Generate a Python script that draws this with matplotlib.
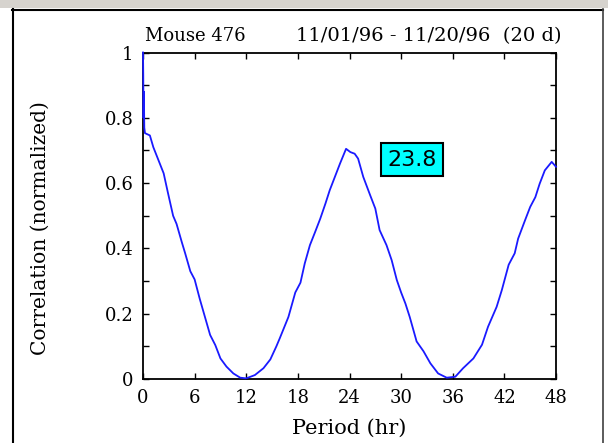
import matplotlib
matplotlib.use("Agg")
import matplotlib.pyplot as plt
from matplotlib.lines import Line2D
from matplotlib.patches import Rectangle

# autocorrelation
period = [0, 0.03, 0.06, 0.10, 0.15, 0.23, 0.8, 1.2, 1.8, 2.4, 2.9, 3.5, 3.9, 4.5, 4.9,
          5.5, 6.0, 6.6, 7.2, 7.8, 8.4, 9.0, 9.7, 10.5, 11.3, 12.0, 13.0, 14.0, 14.8,
          15.5, 15.9, 16.9, 17.7, 18.3, 18.8, 19.4, 20.0, 20.6, 21.2, 21.7, 22.3, 22.9,
          23.6, 24.1, 24.6, 25.0, 25.6, 26.4, 27.0, 27.5, 28.3, 28.9, 29.5, 30.0, 30.5,
          31.0, 31.8, 32.6, 33.4, 34.3, 35.3, 36.3, 37.2, 38.4, 39.4, 40.1, 41.1, 41.7,
          42.5, 43.2, 43.6, 44.4, 45.0, 45.6, 46.1, 46.7, 47.5, 48.0]
corr = [1.00, 0.93, 0.80, 0.88, 0.77, 0.753, 0.746, 0.71, 0.67, 0.63, 0.57, 0.50, 0.475,
        0.42, 0.385, 0.33, 0.305, 0.245, 0.19, 0.135, 0.104, 0.063, 0.038, 0.017, 0.004,
        0.002, 0.012, 0.033, 0.06, 0.10, 0.125, 0.19, 0.265, 0.295, 0.354, 0.41, 0.45,
        0.491, 0.537, 0.578, 0.619, 0.66, 0.705, 0.695, 0.69, 0.675, 0.619, 0.563, 0.522,
        0.456, 0.41, 0.364, 0.303, 0.265, 0.231, 0.19, 0.115, 0.085, 0.048, 0.017, 0.004,
        0.007, 0.033, 0.063, 0.105, 0.16, 0.221, 0.272, 0.35, 0.385, 0.43, 0.486,
        0.527, 0.557, 0.598, 0.639, 0.665, 0.65]
xticks = [0, 6, 12, 18, 24, 30, 36, 42, 48]
yticks = [0, 0.2, 0.4, 0.6, 0.8, 1]
ytick_labels = ["0", "0.2", "0.4", "0.6", "0.8", "1"]
peak_label = "23.8"
title_left = "Mouse 476"
title_right = "11/01/96 - 11/20/96  (20 d)"

W, H = 608, 443
plt.rcParams['font.family'] = ['DejaVu Serif']
fig = plt.figure(figsize=(W / 100, H / 100), dpi=100)
fig.patch.set_facecolor('white')

# window frame
fig.add_artist(Rectangle((0, 1 - 8 / H), 1, 8 / H, transform=fig.transFigure,
                         facecolor='#d6d3ce', edgecolor='none'))
fig.add_artist(Line2D([12.5 / W, 12.5 / W], [0, 1 - 9 / H], transform=fig.transFigure,
                      color='black', lw=1.5))
fig.add_artist(Line2D([12 / W, 603 / W], [1 - 9.5 / H, 1 - 9.5 / H],
                      transform=fig.transFigure, color='black', lw=1.5))
fig.add_artist(Line2D([603 / W, 603 / W], [0, 1 - 9 / H], transform=fig.transFigure,
                      color='#404040', lw=1.2))

ax = fig.add_axes([143 / W, 1 - 379 / H, (556 - 143) / W, (379 - 52.5) / H])
ax.plot(period, corr, color='#1a1aff', lw=1.3, clip_on=False, zorder=3)
ax.set_xlim(0, 48)
ax.set_ylim(0, 1)
ax.set_xticks(xticks)
ax.set_yticks(yticks)
ax.set_yticklabels(ytick_labels)
ax.set_yticks([0.1, 0.3, 0.5, 0.7, 0.9], minor=True)
ax.tick_params(which='both', direction='in', length=4, width=1, top=True, right=True,
               labelsize=13, pad=7)
for s in ax.spines.values():
    s.set_linewidth(1.3)

ax.set_xlabel("Period (hr)", fontsize=15, labelpad=9)
fig.text(40 / W, 1 - 228 / H, "Correlation (normalized)", rotation=90, fontsize=14.5,
         ha='center', va='center')
fig.text(145 / W, 1 - 36 / H, title_left, fontsize=13, ha='left', va='center')
fig.text(296 / W, 1 - 36 / H, title_right, fontsize=14, ha='left', va='center')

ax.text(31.3, 0.672, peak_label, fontsize=16, family='DejaVu Sans', ha='center',
        va='center', bbox=dict(boxstyle='square,pad=0.28', facecolor='#00ffff',
                               edgecolor='black', lw=1.5))

fig.savefig("out.png", dpi=100)
